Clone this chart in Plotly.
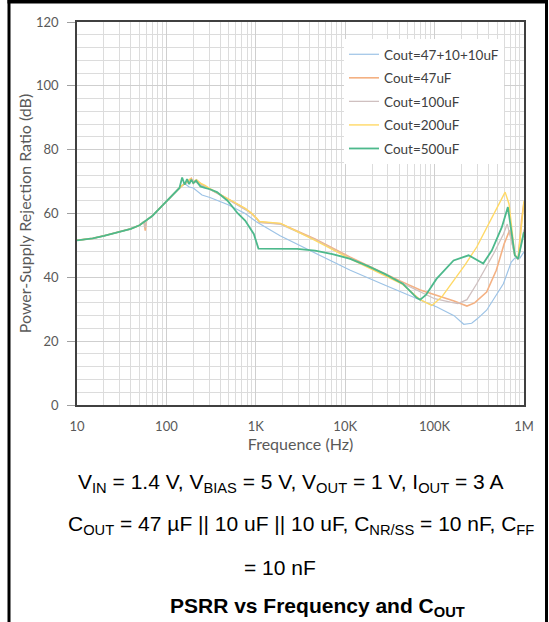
import plotly.graph_objects as go

# ---------------- data ----------------
# shared low-frequency part (all curves coincide)
f_low = [10, 15, 20, 30, 40, 50, 60, 70, 85, 100, 120, 140, 160]
db_low = [51.6, 52.2, 53.0, 54.2, 55.2, 56.3, 57.8, 59.3, 61.8, 63.8, 66.2, 68.0, 69.4]

f_blue = [180, 200, 214, 250, 307, 483, 760, 1025, 1870, 4600, 11400, 28000, 69000,
          106000, 165000, 212000, 260000, 300000, 382000, 500000, 588000, 720000,
          790000, 900000, 1000000]
db_blue = [68.3, 68.0, 67.3, 65.8, 65.0, 62.8, 60.0, 57.3, 53.0, 47.5, 42.2, 37.5, 32.8,
           30.7, 28.0, 25.3, 25.6, 27.0, 29.7, 35.0, 38.0, 44.8,
           46.0, 46.0, 48.0]

f_orange = [56, 58, 60, 175, 190, 200, 220, 250, 307, 483, 760, 900, 1025, 1100, 1900,
            4600, 11400, 28000, 44000, 69000, 106000, 165000, 230000, 280000, 382000,
            490000, 600000, 690000, 790000, 860000, 940000, 1000000]
db_orange = [57.5, 54.6, 57.9, 70.3, 71.0, 69.5, 70.4, 69.0, 67.7, 64.6, 61.5, 60.0, 58.4, 57.3, 56.8,
             52.0, 46.3, 41.0, 38.5, 36.0, 34.4, 32.6, 31.0, 32.0, 35.4,
             42.2, 50.5, 54.7, 46.9, 45.8, 58.0, 63.5]

f_pink = [56, 58, 60, 180, 200, 230, 260, 307, 483, 760, 900, 1025, 1100, 1900,
          4600, 11400, 28000, 44000, 69000, 100000, 150000, 182000, 230000, 296000,
          457000, 590000, 650000, 790000, 860000, 1000000]
db_pink = [57.5, 55.5, 57.9, 69.8, 70.5, 69.2, 68.6, 67.6, 64.5, 61.4, 60.0, 58.3, 57.2, 56.6,
           51.8, 46.0, 40.8, 38.3, 35.7, 33.3, 32.2, 31.8, 33.0, 38.0,
           47.4, 53.6, 56.7, 46.9, 45.5, 55.0]

f_yellow = [170, 185, 200, 215, 240, 270, 307, 483, 760, 900, 1025, 1100, 1900,
            4600, 11400, 28000, 44000, 69000, 93000, 120000, 163000, 220000, 296000,
            457000, 615000, 680000, 790000, 860000, 1000000]
db_yellow = [69.8, 70.8, 69.6, 70.6, 69.5, 68.8, 67.8, 64.7, 61.6, 60.1, 58.5, 57.5, 56.9,
             51.6, 45.8, 40.5, 37.8, 33.0, 31.2, 33.8, 39.0, 44.0, 49.5,
             59.9, 66.7, 63.0, 46.9, 45.8, 64.0]

f_green = [150, 160, 170, 180, 190, 200, 215, 240, 270, 307, 368, 483, 630, 760, 950, 1070,
           2900, 4600, 7200, 11400, 18000, 28000, 44000, 63000, 69000, 80000, 105000, 163000,
           240000, 350000, 436000, 565000, 660000, 790000, 860000, 1000000]
db_green = [71.3, 69.0, 70.8, 69.2, 70.6, 69.5, 70.3, 68.5, 68.0, 67.6, 66.7, 64.0, 60.0, 57.8, 53.6, 49.0,
            48.9, 48.4, 47.3, 45.8, 43.5, 41.0, 38.0, 33.6, 33.0, 34.5, 39.5, 45.3,
            46.9, 44.3, 48.4, 55.7, 62.0, 46.9, 45.8, 54.2]

names = ["Cout=47+10+10uF", "Cout=47uF", "Cout=100uF", "Cout=200uF", "Cout=500uF"]
colors = ["#9DC3E6", "#F4B183", "#CFC0C0", "#FFD966", "#4DB98C"]
widths = [1.2, 1.6, 1.3, 1.4, 1.8]

x_tickvals = [10, 100, 1000, 10000, 100000, 1000000]
x_ticktext = ["10", "100", "1K", "10K", "100K", "1M"]


def with_spike(f_tail, d_tail):
    # orange / pink: low part, a short spike near 58 Hz, then their own tail
    fx = [f for f in f_low if f < 56] + f_tail[:3] + [f for f in f_low if f > 60] + f_tail[3:]
    dy = ([d for f, d in zip(f_low, db_low) if f < 56] + d_tail[:3] +
          [d for f, d in zip(f_low, db_low) if f > 60] + d_tail[3:])
    return fx, dy


series = [
    (f_low + f_blue, db_low + db_blue),
    with_spike(f_orange, db_orange),
    with_spike(f_pink, db_pink),
    (f_low + f_yellow, db_low + db_yellow),
    (f_low[:-1] + f_green, db_low[:-1] + db_green),
]

fig = go.Figure()
for i, ((fx, dy), n, c, w) in enumerate(zip(series, names, colors, widths)):
    fig.add_trace(go.Scatter(x=fx, y=dy, mode="lines", name=n, legendgroup=f"g{i}",
                             line=dict(color=c, width=w)))

# plot area in page pixels: left 77, right 524, top 22, bottom 405
W, H = 549, 622
L, R, T, B = 77, 25, 22, 217
pw, ph = W - L - R, H - T - B


def px(xp):
    return (xp - L) / pw


def py(yp):
    return (H - B - yp) / ph


lab = dict(family="Lato", size=13, color="#595959")
fig.update_layout(
    width=W, height=H,
    margin=dict(l=L, r=R, t=T, b=B),
    paper_bgcolor="white", plot_bgcolor="white",
    showlegend=True,
    legend=dict(x=px(344), y=py(39), xanchor="left", yanchor="top",
                bgcolor="white", borderwidth=0, tracegroupgap=3,
                font=dict(family="Lato", size=13.5, color="#404040"),
                itemwidth=30),
    xaxis=dict(type="log", range=[1, 6],
               tickvals=x_tickvals, ticktext=x_ticktext,
               showgrid=True, gridcolor="#CFCFCF", gridwidth=1,
               minor=dict(dtick="D1", showgrid=True, gridcolor="#DCDCDC", gridwidth=1, ticks=""),
               showline=True, linecolor="#404040", linewidth=1.5, mirror=True,
               ticks="", ticklabelstandoff=9,
               tickfont=lab,
               title=dict(text="Frequence (Hz)", standoff=1,
                          font=dict(family="Lato", size=16, color="#595959")),
               zeroline=False),
    yaxis=dict(range=[0, 120], dtick=20,
               showgrid=True, gridcolor="#CFCFCF", gridwidth=1,
               minor=dict(dtick=4, showgrid=True, gridcolor="#DCDCDC", gridwidth=1, ticks=""),
               showline=True, linecolor="#404040", linewidth=1.5, mirror=True,
               ticks="outside", ticklen=8, tickcolor="#A0A0A0",
               ticklabelstandoff=6,
               tickfont=lab,
               title=dict(text="Power-Supply Rejection Ratio (dB)", standoff=0,
                          font=dict(family="Lato", size=16, color="#595959")),
               zeroline=False),
)

txt_font = dict(family="Liberation Sans, Arial", size=21, color="black")
annots = [
    (76, 483, "V<sub>IN</sub> = 1.4 V, V<sub>BIAS</sub> = 5 V, V<sub>OUT</sub> = 1 V, I<sub>OUT</sub> = 3 A"),
    (66, 525, "C<sub>OUT</sub> = 47 µF || 10 uF || 10 uF, C<sub>NR/SS</sub> = 10 nF, C<sub>FF</sub>"),
    (242, 567, "= 10 nF"),
    (168, 607, "<b>PSRR vs Frequency and C<sub>OUT</sub></b>"),
]
for xp, yp, t in annots:
    fig.add_annotation(x=px(xp), y=py(yp), xref="paper", yref="paper",
                       xanchor="left", yanchor="middle", text=t, showarrow=False,
                       font=txt_font)

# page border: left, right and top edges (bottom is cut off in the reference)
edge = dict(color="black", width=0)
fig.add_shape(type="rect", xref="paper", yref="paper", layer="above",
              x0=px(7.5), x1=px(10.5), y0=py(660), y1=py(-2), line=edge, fillcolor="black")
fig.add_shape(type="rect", xref="paper", yref="paper", layer="above",
              x0=px(545), x1=px(548), y0=py(660), y1=py(-2), line=edge, fillcolor="black")
fig.add_shape(type="rect", xref="paper", yref="paper", layer="above",
              x0=px(7.5), x1=px(548), y0=py(3.5), y1=py(-2), line=edge, fillcolor="black")

# the page's default 8px body margin would shift the figure; remove it
fig.write_html("out.html", config={"displayModeBar": False},
               post_script="document.body.style.margin='0';")
